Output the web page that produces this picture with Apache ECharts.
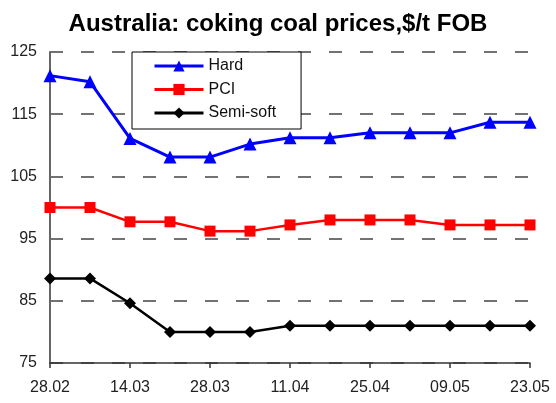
<!DOCTYPE html>
<html>
<head>
<meta charset="utf-8">
<script src="https://cdn.jsdelivr.net/npm/echarts@6/dist/echarts.min.js"></script>
<style>
  html, body { margin: 0; padding: 0; background: #fff; }
  #chart { width: 556px; height: 403px; }
</style>
</head>
<body>
<div id="chart"></div>
<script>
// dates (weekly)
var dates = ['28.02', '07.03', '14.03', '21.03', '28.03', '04.04', '11.04',
             '18.04', '25.04', '02.05', '09.05', '16.05', '23.05'];
// prices $/t FOB
var hard = [121.2, 120.2, 111.1, 108.1, 108.1, 110.2, 111.2, 111.2, 112.0, 112.0, 112.0, 113.7, 113.7];
var pci = [100.0, 100.0, 97.7, 97.7, 96.2, 96.2, 97.2, 98.0, 98.0, 98.0, 97.2, 97.2, 97.2];
var semiSoft = [88.6, 88.6, 84.6, 80.0, 80.0, 80.0, 81.0, 81.0, 81.0, 81.0, 81.0, 81.0, 81.0];

var chart = echarts.init(document.getElementById('chart'));

var font = 'Liberation Sans, Arial, sans-serif';

chart.setOption({
    animation: false,
    backgroundColor: '#fff',
    title: {
        text: 'Australia: coking coal prices,$/t FOB',
        left: 'center',
        top: 7,
        textStyle: { fontFamily: font, fontSize: 24, fontWeight: 'bold', color: '#000' }
    },
    legend: {
        orient: 'vertical',
        left: 132,
        top: 52,
        padding: [6, 25, 8, 21],
        backgroundColor: '#fff',
        borderColor: '#000',
        borderWidth: 1,
        itemWidth: 49,
        itemHeight: 14,
        itemGap: 7.5,
        lineStyle: { width: 3 },
        textStyle: { fontFamily: font, fontSize: 16, color: '#111' },
        data: ['Hard', 'PCI', 'Semi-soft']
    },
    grid: { left: 50, right: 26, top: 52, bottom: 40 },
    xAxis: {
        type: 'category',
        boundaryGap: false,
        data: dates,
        axisLine: { lineStyle: { color: '#333', width: 1.5 } },
        axisTick: { interval: 1, length: 5, lineStyle: { color: '#333', width: 1.5 } },
        axisLabel: { interval: 1, fontFamily: font, fontSize: 16, color: '#222', margin: 17 },
        splitLine: { show: false }
    },
    yAxis: {
        type: 'value',
        min: 75,
        max: 125,
        interval: 10,
        axisLine: { show: true, lineStyle: { color: '#666', width: 2 } },
        axisTick: { show: false },
        axisLabel: { fontFamily: font, fontSize: 16, color: '#222', margin: 13 },
        splitLine: { lineStyle: { color: '#444', width: 1.5, type: [13, 18] } }
    },
    series: [
        {
            name: 'Hard',
            type: 'line',
            data: hard,
            symbol: 'triangle',
            symbolSize: 13,
            itemStyle: { color: '#0000ff' },
            lineStyle: { color: '#0000ff', width: 3 }
        },
        {
            name: 'PCI',
            type: 'line',
            data: pci,
            symbol: 'rect',
            symbolSize: 11,
            itemStyle: { color: '#ff0000' },
            lineStyle: { color: '#ff0000', width: 2.5 }
        },
        {
            name: 'Semi-soft',
            type: 'line',
            data: semiSoft,
            symbol: 'diamond',
            symbolSize: 12,
            itemStyle: { color: '#000' },
            lineStyle: { color: '#000', width: 2.5 }
        }
    ]
});
</script>
</body>
</html>
